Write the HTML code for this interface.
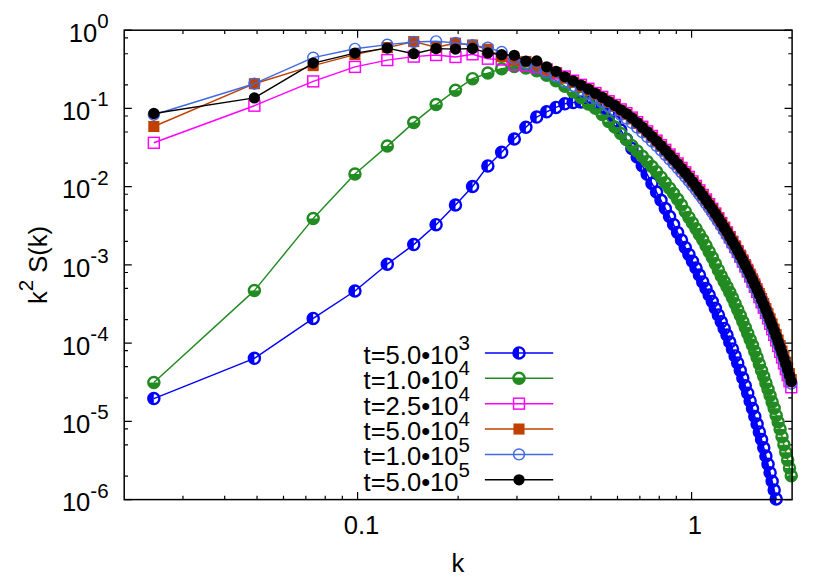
<!DOCTYPE html>
<html><head><meta charset="utf-8"><title>k2 S(k)</title>
<style>
html,body{margin:0;padding:0;background:#fff;}
body{width:830px;height:581px;overflow:hidden;}
svg{display:block;}
text{font-family:"Liberation Sans",sans-serif;fill:#000;}
</style></head><body>
<svg width="830" height="581" viewBox="0 0 830 581">
<rect x="0" y="0" width="830" height="581" fill="#ffffff"/>
<defs>
<g id="mHL"><path d="M0,-5.55 A5.55,5.55 0 0 0 0,5.55 Z" fill="#0000ff" stroke="none"/><circle cx="0" cy="0" r="5.55" fill="none" stroke="#0000ff" stroke-width="2.4"/></g>
<g id="mHB"><path d="M-5.55,0 A5.55,5.55 0 0 0 5.55,0 Z" fill="#228b22" stroke="none"/><circle cx="0" cy="0" r="5.55" fill="none" stroke="#228b22" stroke-width="2.4"/></g>
<g id="mSO"><rect x="-5.45" y="-5.45" width="10.9" height="10.9" fill="none" stroke="#ff00ff" stroke-width="1.45"/></g>
<g id="mSF"><rect x="-5.55" y="-5.55" width="11.1" height="11.1" fill="#c04000" stroke="none"/></g>
<g id="mCO"><circle cx="0" cy="0" r="5.45" fill="none" stroke="#4169e1" stroke-width="1.45"/></g>
<g id="mCF"><circle cx="0" cy="0" r="5.65" fill="#000" stroke="none"/></g>
</defs>

<g stroke="#000" stroke-width="1.2" fill="none">
<path d="M124.2,30.20h7.6M792.1,30.20h-7.6"/>
<path d="M124.2,84.88h3.8M792.1,84.88h-3.8"/>
<path d="M124.2,53.75h3.8M792.1,53.75h-3.8"/>
<path d="M124.2,37.78h3.8M792.1,37.78h-3.8"/>
<path d="M124.2,108.43h7.6M792.1,108.43h-7.6"/>
<path d="M124.2,163.12h3.8M792.1,163.12h-3.8"/>
<path d="M124.2,131.98h3.8M792.1,131.98h-3.8"/>
<path d="M124.2,116.01h3.8M792.1,116.01h-3.8"/>
<path d="M124.2,186.67h7.6M792.1,186.67h-7.6"/>
<path d="M124.2,241.35h3.8M792.1,241.35h-3.8"/>
<path d="M124.2,210.22h3.8M792.1,210.22h-3.8"/>
<path d="M124.2,194.25h3.8M792.1,194.25h-3.8"/>
<path d="M124.2,264.90h7.6M792.1,264.90h-7.6"/>
<path d="M124.2,319.58h3.8M792.1,319.58h-3.8"/>
<path d="M124.2,288.45h3.8M792.1,288.45h-3.8"/>
<path d="M124.2,272.48h3.8M792.1,272.48h-3.8"/>
<path d="M124.2,343.13h7.6M792.1,343.13h-7.6"/>
<path d="M124.2,397.82h3.8M792.1,397.82h-3.8"/>
<path d="M124.2,366.68h3.8M792.1,366.68h-3.8"/>
<path d="M124.2,350.71h3.8M792.1,350.71h-3.8"/>
<path d="M124.2,421.37h7.6M792.1,421.37h-7.6"/>
<path d="M124.2,476.05h3.8M792.1,476.05h-3.8"/>
<path d="M124.2,444.92h3.8M792.1,444.92h-3.8"/>
<path d="M124.2,428.95h3.8M792.1,428.95h-3.8"/>
<path d="M124.2,499.60h7.6M792.1,499.60h-7.6"/>
<path d="M357.60,499.6v-7.6M357.60,30.2v7.6"/>
<path d="M691.60,499.6v-7.6M691.60,30.2v7.6"/>
<path d="M182.96,499.6v-3.8M182.96,30.2v3.8"/>
<path d="M224.69,499.6v-3.8M224.69,30.2v3.8"/>
<path d="M257.06,499.6v-3.8M257.06,30.2v3.8"/>
<path d="M283.50,499.6v-3.8M283.50,30.2v3.8"/>
<path d="M305.86,499.6v-3.8M305.86,30.2v3.8"/>
<path d="M325.23,499.6v-3.8M325.23,30.2v3.8"/>
<path d="M342.32,499.6v-3.8M342.32,30.2v3.8"/>
<path d="M458.14,499.6v-3.8M458.14,30.2v3.8"/>
<path d="M516.96,499.6v-3.8M516.96,30.2v3.8"/>
<path d="M558.69,499.6v-3.8M558.69,30.2v3.8"/>
<path d="M591.06,499.6v-3.8M591.06,30.2v3.8"/>
<path d="M617.50,499.6v-3.8M617.50,30.2v3.8"/>
<path d="M639.86,499.6v-3.8M639.86,30.2v3.8"/>
<path d="M659.23,499.6v-3.8M659.23,30.2v3.8"/>
<path d="M676.32,499.6v-3.8M676.32,30.2v3.8"/>
</g>
<g id="s_blue"><polyline points="153.84,398.60 254.38,358.30 313.20,318.40 354.93,291.00 387.30,264.20 413.74,244.60 436.10,224.70 455.47,205.00 472.56,186.50 487.84,165.90 501.67,152.30 514.29,139.00 525.90,127.30 536.65,117.10 546.65,111.80 556.02,107.40 564.81,103.80 573.10,102.60 580.94,102.00 588.38,102.30 595.46,103.80 602.21,107.00 608.66,113.00 614.83,121.00 620.75,130.00 626.44,139.30 631.92,148.50 637.19,157.00 642.28,165.70 647.20,174.30 651.95,183.40 656.56,192.10 661.02,200.30 665.35,208.50 669.56,216.60 673.64,224.60 677.62,232.50 681.49,240.10 685.26,247.40 688.93,254.40 692.51,261.30 696.01,268.10 699.42,275.00 702.75,281.90 706.01,288.40 709.20,295.00 712.32,301.50 715.37,308.30 718.37,314.90 721.30,321.80 724.17,328.40 726.99,335.10 729.75,342.10 732.46,348.90 735.12,355.90 737.73,362.90 740.30,370.60 742.82,378.10 745.30,385.70 747.74,393.20 750.14,400.90 752.50,408.60 754.82,416.40 757.10,424.10 759.35,431.90 761.57,439.60 763.75,447.80 765.90,456.00 768.02,464.20 770.10,472.70 772.16,481.30 774.19,490.10 776.19,499.00" fill="none" stroke="#0000ff" stroke-width="1.45" stroke-linejoin="round"/>
<use href="#mHL" x="153.84" y="398.6"/><use href="#mHL" x="254.38" y="358.3"/><use href="#mHL" x="313.2" y="318.4"/><use href="#mHL" x="354.93" y="291"/><use href="#mHL" x="387.3" y="264.2"/><use href="#mHL" x="413.74" y="244.6"/><use href="#mHL" x="436.1" y="224.7"/><use href="#mHL" x="455.47" y="205"/><use href="#mHL" x="472.56" y="186.5"/><use href="#mHL" x="487.84" y="165.9"/><use href="#mHL" x="501.67" y="152.3"/><use href="#mHL" x="514.29" y="139"/><use href="#mHL" x="525.9" y="127.3"/><use href="#mHL" x="536.65" y="117.1"/><use href="#mHL" x="546.65" y="111.8"/><use href="#mHL" x="556.02" y="107.4"/><use href="#mHL" x="564.81" y="103.8"/><use href="#mHL" x="573.1" y="102.6"/><use href="#mHL" x="580.94" y="102"/><use href="#mHL" x="588.38" y="102.3"/><use href="#mHL" x="595.46" y="103.8"/><use href="#mHL" x="602.21" y="107"/><use href="#mHL" x="608.66" y="113"/><use href="#mHL" x="614.83" y="121"/><use href="#mHL" x="620.75" y="130"/><use href="#mHL" x="626.44" y="139.3"/><use href="#mHL" x="631.92" y="148.5"/><use href="#mHL" x="637.19" y="157"/><use href="#mHL" x="642.28" y="165.7"/><use href="#mHL" x="647.2" y="174.3"/><use href="#mHL" x="651.95" y="183.4"/><use href="#mHL" x="656.56" y="192.1"/><use href="#mHL" x="661.02" y="200.3"/><use href="#mHL" x="665.35" y="208.5"/><use href="#mHL" x="669.56" y="216.6"/><use href="#mHL" x="673.64" y="224.6"/><use href="#mHL" x="677.62" y="232.5"/><use href="#mHL" x="681.49" y="240.1"/><use href="#mHL" x="685.26" y="247.4"/><use href="#mHL" x="688.93" y="254.4"/><use href="#mHL" x="692.51" y="261.3"/><use href="#mHL" x="696.01" y="268.1"/><use href="#mHL" x="699.42" y="275.0"/><use href="#mHL" x="702.75" y="281.9"/><use href="#mHL" x="706.01" y="288.4"/><use href="#mHL" x="709.2" y="295.0"/><use href="#mHL" x="712.32" y="301.5"/><use href="#mHL" x="715.37" y="308.3"/><use href="#mHL" x="718.37" y="314.9"/><use href="#mHL" x="721.3" y="321.8"/><use href="#mHL" x="724.17" y="328.4"/><use href="#mHL" x="726.99" y="335.1"/><use href="#mHL" x="729.75" y="342.1"/><use href="#mHL" x="732.46" y="348.9"/><use href="#mHL" x="735.12" y="355.9"/><use href="#mHL" x="737.73" y="362.9"/><use href="#mHL" x="740.3" y="370.6"/><use href="#mHL" x="742.82" y="378.1"/><use href="#mHL" x="745.3" y="385.7"/><use href="#mHL" x="747.74" y="393.2"/><use href="#mHL" x="750.14" y="400.9"/><use href="#mHL" x="752.5" y="408.6"/><use href="#mHL" x="754.82" y="416.4"/><use href="#mHL" x="757.1" y="424.1"/><use href="#mHL" x="759.35" y="431.9"/><use href="#mHL" x="761.57" y="439.6"/><use href="#mHL" x="763.75" y="447.8"/><use href="#mHL" x="765.9" y="456.0"/><use href="#mHL" x="768.02" y="464.2"/><use href="#mHL" x="770.1" y="472.7"/><use href="#mHL" x="772.16" y="481.3"/><use href="#mHL" x="774.19" y="490.1"/><use href="#mHL" x="776.19" y="499.0"/>
</g>
<g id="s_green"><polyline points="153.84,382.50 254.38,290.60 313.20,218.60 354.93,174.00 387.30,146.10 413.74,122.60 436.10,104.60 455.47,90.30 472.56,78.70 487.84,73.10 501.67,68.80 514.29,66.40 525.90,68.00 536.65,70.80 546.65,75.20 556.02,80.70 564.81,86.20 573.10,91.80 580.94,97.40 588.38,104.00 595.46,108.30 602.21,114.60 608.66,121.40 614.83,127.10 620.75,133.60 626.44,139.40 631.92,145.70 637.19,151.00 642.28,156.30 647.20,161.60 651.95,166.55 656.56,171.85 661.02,177.15 665.35,182.75 669.56,188.20 673.64,193.50 677.62,199.30 681.49,205.10 685.26,211.40 688.93,217.40 692.51,222.90 696.01,228.70 699.42,234.40 702.75,239.70 706.01,245.80 709.20,251.70 712.32,257.50 715.37,263.80 718.37,269.90 721.30,276.00 724.17,281.60 726.99,286.80 729.75,292.30 732.46,297.70 735.12,303.70 737.73,309.70 740.30,315.50 742.82,321.50 745.30,327.50 747.74,333.40 750.14,339.50 752.50,345.30 754.82,351.60 757.10,357.60 759.35,363.90 761.57,370.40 763.75,376.40 765.90,382.90 768.02,389.30 770.10,395.60 772.16,401.90 774.19,408.30 776.19,415.40 778.16,421.90 780.11,429.00 782.03,436.70 783.93,444.80 785.80,452.30 787.65,459.90 789.47,467.90 791.27,475.80" fill="none" stroke="#228b22" stroke-width="1.45" stroke-linejoin="round"/>
<use href="#mHB" x="153.84" y="382.5"/><use href="#mHB" x="254.38" y="290.6"/><use href="#mHB" x="313.2" y="218.6"/><use href="#mHB" x="354.93" y="174"/><use href="#mHB" x="387.3" y="146.1"/><use href="#mHB" x="413.74" y="122.6"/><use href="#mHB" x="436.1" y="104.6"/><use href="#mHB" x="455.47" y="90.3"/><use href="#mHB" x="472.56" y="78.7"/><use href="#mHB" x="487.84" y="73.1"/><use href="#mHB" x="501.67" y="68.8"/><use href="#mHB" x="514.29" y="66.4"/><use href="#mHB" x="525.9" y="68"/><use href="#mHB" x="536.65" y="70.8"/><use href="#mHB" x="546.65" y="75.2"/><use href="#mHB" x="556.02" y="80.7"/><use href="#mHB" x="564.81" y="86.2"/><use href="#mHB" x="573.1" y="91.8"/><use href="#mHB" x="580.94" y="97.4"/><use href="#mHB" x="588.38" y="104.0"/><use href="#mHB" x="595.46" y="108.3"/><use href="#mHB" x="602.21" y="114.6"/><use href="#mHB" x="608.66" y="121.4"/><use href="#mHB" x="614.83" y="127.1"/><use href="#mHB" x="620.75" y="133.6"/><use href="#mHB" x="626.44" y="139.4"/><use href="#mHB" x="631.92" y="145.7"/><use href="#mHB" x="637.19" y="151.0"/><use href="#mHB" x="642.28" y="156.3"/><use href="#mHB" x="647.2" y="161.6"/><use href="#mHB" x="651.95" y="166.55"/><use href="#mHB" x="656.56" y="171.85"/><use href="#mHB" x="661.02" y="177.15"/><use href="#mHB" x="665.35" y="182.75"/><use href="#mHB" x="669.56" y="188.2"/><use href="#mHB" x="673.64" y="193.5"/><use href="#mHB" x="677.62" y="199.3"/><use href="#mHB" x="681.49" y="205.1"/><use href="#mHB" x="685.26" y="211.4"/><use href="#mHB" x="688.93" y="217.4"/><use href="#mHB" x="692.51" y="222.9"/><use href="#mHB" x="696.01" y="228.7"/><use href="#mHB" x="699.42" y="234.4"/><use href="#mHB" x="702.75" y="239.7"/><use href="#mHB" x="706.01" y="245.8"/><use href="#mHB" x="709.2" y="251.7"/><use href="#mHB" x="712.32" y="257.5"/><use href="#mHB" x="715.37" y="263.8"/><use href="#mHB" x="718.37" y="269.9"/><use href="#mHB" x="721.3" y="276.0"/><use href="#mHB" x="724.17" y="281.6"/><use href="#mHB" x="726.99" y="286.8"/><use href="#mHB" x="729.75" y="292.3"/><use href="#mHB" x="732.46" y="297.7"/><use href="#mHB" x="735.12" y="303.7"/><use href="#mHB" x="737.73" y="309.7"/><use href="#mHB" x="740.3" y="315.5"/><use href="#mHB" x="742.82" y="321.5"/><use href="#mHB" x="745.3" y="327.5"/><use href="#mHB" x="747.74" y="333.4"/><use href="#mHB" x="750.14" y="339.5"/><use href="#mHB" x="752.5" y="345.3"/><use href="#mHB" x="754.82" y="351.6"/><use href="#mHB" x="757.1" y="357.6"/><use href="#mHB" x="759.35" y="363.9"/><use href="#mHB" x="761.57" y="370.4"/><use href="#mHB" x="763.75" y="376.4"/><use href="#mHB" x="765.9" y="382.9"/><use href="#mHB" x="768.02" y="389.3"/><use href="#mHB" x="770.1" y="395.6"/><use href="#mHB" x="772.16" y="401.9"/><use href="#mHB" x="774.19" y="408.3"/><use href="#mHB" x="776.19" y="415.4"/><use href="#mHB" x="778.16" y="421.9"/><use href="#mHB" x="780.11" y="429.0"/><use href="#mHB" x="782.03" y="436.7"/><use href="#mHB" x="783.93" y="444.8"/><use href="#mHB" x="785.8" y="452.3"/><use href="#mHB" x="787.65" y="459.9"/><use href="#mHB" x="789.47" y="467.9"/><use href="#mHB" x="791.27" y="475.8"/>
</g>
<g id="s_mag"><polyline points="153.84,142.80 254.38,105.70 313.20,81.40 354.93,66.90 387.30,60.10 413.74,56.60 436.10,55.00 455.47,57.00 472.56,54.30 487.84,58.70 501.67,59.60 514.29,64.60 525.90,65.50 536.65,67.30 546.65,69.40 556.02,73.50 564.81,76.50 573.10,80.68 580.94,84.87 588.38,88.75 595.46,93.04 602.21,96.92 608.66,101.21 614.83,104.99 620.75,109.38 626.44,113.16 631.92,117.55 637.19,122.15 642.28,126.75 647.20,131.35 651.95,135.97 656.56,140.59 661.02,145.22 665.35,149.84 669.56,154.47 673.64,158.94 677.62,163.41 681.49,167.89 685.26,172.37 688.93,176.86 692.51,181.36 696.01,185.87 699.42,190.38 702.75,194.90 706.01,199.44 709.20,204.12 712.32,208.81 715.37,213.52 718.37,218.24 721.30,222.97 724.17,227.73 726.99,232.50 729.75,237.29 732.46,242.10 735.12,246.93 737.73,251.79 740.30,256.67 742.82,261.58 745.30,266.51 747.74,271.47 750.14,276.54 752.50,281.63 754.82,286.76 757.10,291.93 759.35,297.13 761.57,302.37 763.75,307.65 765.90,312.97 768.02,318.33 770.10,323.74 772.16,329.24 774.19,334.79 776.19,340.39 778.16,346.05 780.11,351.76 782.03,357.52 783.93,363.35 785.80,369.23 787.65,375.18 789.47,381.19 791.27,387.27" fill="none" stroke="#ff00ff" stroke-width="1.45" stroke-linejoin="round"/>
<use href="#mSO" x="153.84" y="142.8"/><use href="#mSO" x="254.38" y="105.7"/><use href="#mSO" x="313.2" y="81.4"/><use href="#mSO" x="354.93" y="66.9"/><use href="#mSO" x="387.3" y="60.1"/><use href="#mSO" x="413.74" y="56.6"/><use href="#mSO" x="436.1" y="55"/><use href="#mSO" x="455.47" y="57"/><use href="#mSO" x="472.56" y="54.3"/><use href="#mSO" x="487.84" y="58.7"/><use href="#mSO" x="501.67" y="59.6"/><use href="#mSO" x="514.29" y="64.6"/><use href="#mSO" x="525.9" y="65.5"/><use href="#mSO" x="536.65" y="67.3"/><use href="#mSO" x="546.65" y="69.4"/><use href="#mSO" x="556.02" y="73.5"/><use href="#mSO" x="564.81" y="76.5"/><use href="#mSO" x="573.1" y="80.68"/><use href="#mSO" x="580.94" y="84.87"/><use href="#mSO" x="588.38" y="88.75"/><use href="#mSO" x="595.46" y="93.04"/><use href="#mSO" x="602.21" y="96.92"/><use href="#mSO" x="608.66" y="101.21"/><use href="#mSO" x="614.83" y="104.99"/><use href="#mSO" x="620.75" y="109.38"/><use href="#mSO" x="626.44" y="113.16"/><use href="#mSO" x="631.92" y="117.55"/><use href="#mSO" x="637.19" y="122.15"/><use href="#mSO" x="642.28" y="126.75"/><use href="#mSO" x="647.2" y="131.35"/><use href="#mSO" x="651.95" y="135.97"/><use href="#mSO" x="656.56" y="140.59"/><use href="#mSO" x="661.02" y="145.22"/><use href="#mSO" x="665.35" y="149.84"/><use href="#mSO" x="669.56" y="154.47"/><use href="#mSO" x="673.64" y="158.94"/><use href="#mSO" x="677.62" y="163.41"/><use href="#mSO" x="681.49" y="167.89"/><use href="#mSO" x="685.26" y="172.37"/><use href="#mSO" x="688.93" y="176.86"/><use href="#mSO" x="692.51" y="181.36"/><use href="#mSO" x="696.01" y="185.87"/><use href="#mSO" x="699.42" y="190.38"/><use href="#mSO" x="702.75" y="194.9"/><use href="#mSO" x="706.01" y="199.44"/><use href="#mSO" x="709.2" y="204.12"/><use href="#mSO" x="712.32" y="208.81"/><use href="#mSO" x="715.37" y="213.52"/><use href="#mSO" x="718.37" y="218.24"/><use href="#mSO" x="721.3" y="222.97"/><use href="#mSO" x="724.17" y="227.73"/><use href="#mSO" x="726.99" y="232.5"/><use href="#mSO" x="729.75" y="237.29"/><use href="#mSO" x="732.46" y="242.1"/><use href="#mSO" x="735.12" y="246.93"/><use href="#mSO" x="737.73" y="251.79"/><use href="#mSO" x="740.3" y="256.67"/><use href="#mSO" x="742.82" y="261.58"/><use href="#mSO" x="745.3" y="266.51"/><use href="#mSO" x="747.74" y="271.47"/><use href="#mSO" x="750.14" y="276.54"/><use href="#mSO" x="752.5" y="281.63"/><use href="#mSO" x="754.82" y="286.76"/><use href="#mSO" x="757.1" y="291.93"/><use href="#mSO" x="759.35" y="297.13"/><use href="#mSO" x="761.57" y="302.37"/><use href="#mSO" x="763.75" y="307.65"/><use href="#mSO" x="765.9" y="312.97"/><use href="#mSO" x="768.02" y="318.33"/><use href="#mSO" x="770.1" y="323.74"/><use href="#mSO" x="772.16" y="329.24"/><use href="#mSO" x="774.19" y="334.79"/><use href="#mSO" x="776.19" y="340.39"/><use href="#mSO" x="778.16" y="346.05"/><use href="#mSO" x="780.11" y="351.76"/><use href="#mSO" x="782.03" y="357.52"/><use href="#mSO" x="783.93" y="363.35"/><use href="#mSO" x="785.8" y="369.23"/><use href="#mSO" x="787.65" y="375.18"/><use href="#mSO" x="789.47" y="381.19"/><use href="#mSO" x="791.27" y="387.27"/>
</g>
<g id="s_brown"><polyline points="153.84,126.50 254.38,83.70 313.20,65.60 354.93,54.60 387.30,47.60 413.74,41.60 436.10,47.30 455.47,43.20 472.56,45.00 487.84,49.30 501.67,56.60 514.29,60.40 525.90,61.50 536.65,65.70 546.65,69.60 556.02,72.80 564.81,78.17 573.10,82.25 580.94,86.33 588.38,90.10 595.46,94.38 602.21,98.26 608.66,102.54 614.83,106.32 620.75,110.70 626.44,114.48 631.92,118.86 637.19,123.46 642.28,128.06 647.20,132.65 651.95,137.25 656.56,141.85 661.02,146.46 665.35,151.06 669.56,155.67 673.64,160.12 677.62,164.57 681.49,169.03 685.26,173.49 688.93,177.96 692.51,182.44 696.01,186.93 699.42,191.42 702.75,195.92 706.01,200.44 709.20,204.90 712.32,209.38 715.37,213.88 718.37,218.38 721.30,222.91 724.17,227.45 726.99,232.00 729.75,236.58 732.46,241.18 735.12,245.80 737.73,250.44 740.30,255.11 742.82,259.80 745.30,264.52 747.74,269.27 750.14,274.07 752.50,278.90 754.82,283.76 757.10,288.66 759.35,293.59 761.57,298.57 763.75,303.58 765.90,308.63 768.02,313.73 770.10,318.87 772.16,324.11 774.19,329.39 776.19,334.73 778.16,340.11 780.11,345.56 782.03,351.05 783.93,356.61 785.80,362.23 787.65,367.91 789.47,373.66 791.27,379.47" fill="none" stroke="#c04000" stroke-width="1.45" stroke-linejoin="round"/>
<use href="#mSF" x="153.84" y="126.5"/><use href="#mSF" x="254.38" y="83.7"/><use href="#mSF" x="313.2" y="65.6"/><use href="#mSF" x="354.93" y="54.6"/><use href="#mSF" x="387.3" y="47.6"/><use href="#mSF" x="413.74" y="41.6"/><use href="#mSF" x="436.1" y="47.3"/><use href="#mSF" x="455.47" y="43.2"/><use href="#mSF" x="472.56" y="45"/><use href="#mSF" x="487.84" y="49.3"/><use href="#mSF" x="501.67" y="56.6"/><use href="#mSF" x="514.29" y="60.4"/><use href="#mSF" x="525.9" y="61.5"/><use href="#mSF" x="536.65" y="65.7"/><use href="#mSF" x="546.65" y="69.6"/><use href="#mSF" x="556.02" y="72.8"/><use href="#mSF" x="564.81" y="78.17"/><use href="#mSF" x="573.1" y="82.25"/><use href="#mSF" x="580.94" y="86.33"/><use href="#mSF" x="588.38" y="90.1"/><use href="#mSF" x="595.46" y="94.38"/><use href="#mSF" x="602.21" y="98.26"/><use href="#mSF" x="608.66" y="102.54"/><use href="#mSF" x="614.83" y="106.32"/><use href="#mSF" x="620.75" y="110.7"/><use href="#mSF" x="626.44" y="114.48"/><use href="#mSF" x="631.92" y="118.86"/><use href="#mSF" x="637.19" y="123.46"/><use href="#mSF" x="642.28" y="128.06"/><use href="#mSF" x="647.2" y="132.65"/><use href="#mSF" x="651.95" y="137.25"/><use href="#mSF" x="656.56" y="141.85"/><use href="#mSF" x="661.02" y="146.46"/><use href="#mSF" x="665.35" y="151.06"/><use href="#mSF" x="669.56" y="155.67"/><use href="#mSF" x="673.64" y="160.12"/><use href="#mSF" x="677.62" y="164.57"/><use href="#mSF" x="681.49" y="169.03"/><use href="#mSF" x="685.26" y="173.49"/><use href="#mSF" x="688.93" y="177.96"/><use href="#mSF" x="692.51" y="182.44"/><use href="#mSF" x="696.01" y="186.93"/><use href="#mSF" x="699.42" y="191.42"/><use href="#mSF" x="702.75" y="195.92"/><use href="#mSF" x="706.01" y="200.44"/><use href="#mSF" x="709.2" y="204.9"/><use href="#mSF" x="712.32" y="209.38"/><use href="#mSF" x="715.37" y="213.88"/><use href="#mSF" x="718.37" y="218.38"/><use href="#mSF" x="721.3" y="222.91"/><use href="#mSF" x="724.17" y="227.45"/><use href="#mSF" x="726.99" y="232.0"/><use href="#mSF" x="729.75" y="236.58"/><use href="#mSF" x="732.46" y="241.18"/><use href="#mSF" x="735.12" y="245.8"/><use href="#mSF" x="737.73" y="250.44"/><use href="#mSF" x="740.3" y="255.11"/><use href="#mSF" x="742.82" y="259.8"/><use href="#mSF" x="745.3" y="264.52"/><use href="#mSF" x="747.74" y="269.27"/><use href="#mSF" x="750.14" y="274.07"/><use href="#mSF" x="752.5" y="278.9"/><use href="#mSF" x="754.82" y="283.76"/><use href="#mSF" x="757.1" y="288.66"/><use href="#mSF" x="759.35" y="293.59"/><use href="#mSF" x="761.57" y="298.57"/><use href="#mSF" x="763.75" y="303.58"/><use href="#mSF" x="765.9" y="308.63"/><use href="#mSF" x="768.02" y="313.73"/><use href="#mSF" x="770.1" y="318.87"/><use href="#mSF" x="772.16" y="324.11"/><use href="#mSF" x="774.19" y="329.39"/><use href="#mSF" x="776.19" y="334.73"/><use href="#mSF" x="778.16" y="340.11"/><use href="#mSF" x="780.11" y="345.56"/><use href="#mSF" x="782.03" y="351.05"/><use href="#mSF" x="783.93" y="356.61"/><use href="#mSF" x="785.8" y="362.23"/><use href="#mSF" x="787.65" y="367.91"/><use href="#mSF" x="789.47" y="373.66"/><use href="#mSF" x="791.27" y="379.47"/>
</g>
<g id="s_bo"><polyline points="153.84,114.70 254.38,83.70 313.20,57.60 354.93,48.80 387.30,44.60 413.74,42.00 436.10,41.30 455.47,42.90 472.56,45.10 487.84,47.60 501.67,52.00 514.29,58.70 525.90,63.50 536.65,66.90 546.65,72.30 556.02,76.30 564.81,81.80 573.10,86.00 580.94,90.20 588.38,94.10 595.46,98.40 602.21,102.30 608.66,106.60 614.83,110.40 620.75,114.80 626.44,118.60 631.92,123.00 637.19,127.62 642.28,132.24 647.20,136.85 651.95,141.35 656.56,145.85 661.02,150.36 665.35,154.86 669.56,159.37 673.64,163.72 677.62,168.07 681.49,172.43 685.26,176.79 688.93,181.16 692.51,185.62 696.01,190.09 699.42,194.56 702.75,199.04 706.01,203.54 709.20,208.04 712.32,212.56 715.37,217.10 718.37,221.64 721.30,226.21 724.17,230.79 726.99,235.38 729.75,240.00 732.46,244.64 735.12,249.30 737.73,253.98 740.30,258.69 742.82,263.42 745.30,268.18 747.74,272.97 750.14,277.79 752.50,282.64 754.82,287.53 757.10,292.45 759.35,297.40 761.57,302.40 763.75,307.44 765.90,312.52 768.02,317.64 770.10,322.80 772.16,328.06 774.19,333.37 776.19,338.73 778.16,344.14 780.11,349.61 782.03,355.13 783.93,360.71 785.80,366.36 787.65,372.06 789.47,377.83 791.27,383.67" fill="none" stroke="#4169e1" stroke-width="1.45" stroke-linejoin="round"/>
<use href="#mCO" x="153.84" y="114.7"/><use href="#mCO" x="254.38" y="83.7"/><use href="#mCO" x="313.2" y="57.6"/><use href="#mCO" x="354.93" y="48.8"/><use href="#mCO" x="387.3" y="44.6"/><use href="#mCO" x="413.74" y="42.0"/><use href="#mCO" x="436.1" y="41.3"/><use href="#mCO" x="455.47" y="42.9"/><use href="#mCO" x="472.56" y="45.1"/><use href="#mCO" x="487.84" y="47.6"/><use href="#mCO" x="501.67" y="52"/><use href="#mCO" x="514.29" y="58.7"/><use href="#mCO" x="525.9" y="63.5"/><use href="#mCO" x="536.65" y="66.9"/><use href="#mCO" x="546.65" y="72.3"/><use href="#mCO" x="556.02" y="76.3"/><use href="#mCO" x="564.81" y="81.8"/><use href="#mCO" x="573.1" y="86.0"/><use href="#mCO" x="580.94" y="90.2"/><use href="#mCO" x="588.38" y="94.1"/><use href="#mCO" x="595.46" y="98.4"/><use href="#mCO" x="602.21" y="102.3"/><use href="#mCO" x="608.66" y="106.6"/><use href="#mCO" x="614.83" y="110.4"/><use href="#mCO" x="620.75" y="114.8"/><use href="#mCO" x="626.44" y="118.6"/><use href="#mCO" x="631.92" y="123.0"/><use href="#mCO" x="637.19" y="127.62"/><use href="#mCO" x="642.28" y="132.24"/><use href="#mCO" x="647.2" y="136.85"/><use href="#mCO" x="651.95" y="141.35"/><use href="#mCO" x="656.56" y="145.85"/><use href="#mCO" x="661.02" y="150.36"/><use href="#mCO" x="665.35" y="154.86"/><use href="#mCO" x="669.56" y="159.37"/><use href="#mCO" x="673.64" y="163.72"/><use href="#mCO" x="677.62" y="168.07"/><use href="#mCO" x="681.49" y="172.43"/><use href="#mCO" x="685.26" y="176.79"/><use href="#mCO" x="688.93" y="181.16"/><use href="#mCO" x="692.51" y="185.62"/><use href="#mCO" x="696.01" y="190.09"/><use href="#mCO" x="699.42" y="194.56"/><use href="#mCO" x="702.75" y="199.04"/><use href="#mCO" x="706.01" y="203.54"/><use href="#mCO" x="709.2" y="208.04"/><use href="#mCO" x="712.32" y="212.56"/><use href="#mCO" x="715.37" y="217.1"/><use href="#mCO" x="718.37" y="221.64"/><use href="#mCO" x="721.3" y="226.21"/><use href="#mCO" x="724.17" y="230.79"/><use href="#mCO" x="726.99" y="235.38"/><use href="#mCO" x="729.75" y="240.0"/><use href="#mCO" x="732.46" y="244.64"/><use href="#mCO" x="735.12" y="249.3"/><use href="#mCO" x="737.73" y="253.98"/><use href="#mCO" x="740.3" y="258.69"/><use href="#mCO" x="742.82" y="263.42"/><use href="#mCO" x="745.3" y="268.18"/><use href="#mCO" x="747.74" y="272.97"/><use href="#mCO" x="750.14" y="277.79"/><use href="#mCO" x="752.5" y="282.64"/><use href="#mCO" x="754.82" y="287.53"/><use href="#mCO" x="757.1" y="292.45"/><use href="#mCO" x="759.35" y="297.4"/><use href="#mCO" x="761.57" y="302.4"/><use href="#mCO" x="763.75" y="307.44"/><use href="#mCO" x="765.9" y="312.52"/><use href="#mCO" x="768.02" y="317.64"/><use href="#mCO" x="770.1" y="322.8"/><use href="#mCO" x="772.16" y="328.06"/><use href="#mCO" x="774.19" y="333.37"/><use href="#mCO" x="776.19" y="338.73"/><use href="#mCO" x="778.16" y="344.14"/><use href="#mCO" x="780.11" y="349.61"/><use href="#mCO" x="782.03" y="355.13"/><use href="#mCO" x="783.93" y="360.71"/><use href="#mCO" x="785.8" y="366.36"/><use href="#mCO" x="787.65" y="372.06"/><use href="#mCO" x="789.47" y="377.83"/><use href="#mCO" x="791.27" y="383.67"/>
</g>
<g id="s_black"><polyline points="153.84,113.50 254.38,97.90 313.20,63.10 354.93,53.10 387.30,48.10 413.74,53.70 436.10,48.60 455.47,49.10 472.56,48.50 487.84,52.90 501.67,54.70 514.29,55.30 525.90,61.20 536.65,60.90 546.65,66.80 556.02,71.30 564.81,76.80 573.10,81.00 580.94,85.20 588.38,89.10 595.46,93.40 602.21,97.30 608.66,101.60 614.83,105.40 620.75,109.80 626.44,113.60 631.92,118.00 637.19,122.62 642.28,127.24 647.20,131.85 651.95,136.47 656.56,141.09 661.02,145.72 665.35,150.34 669.56,154.97 673.64,159.44 677.62,163.91 681.49,168.39 685.26,172.87 688.93,177.36 692.51,181.86 696.01,186.37 699.42,190.88 702.75,195.40 706.01,199.94 709.20,204.48 712.32,209.04 715.37,213.62 718.37,218.20 721.30,222.81 724.17,227.43 726.99,232.06 729.75,236.72 732.46,241.40 735.12,246.10 737.73,250.82 740.30,255.57 742.82,260.34 745.30,265.14 747.74,269.97 750.14,274.83 752.50,279.72 754.82,284.65 757.10,289.61 759.35,294.60 761.57,299.64 763.75,304.71 765.90,309.83 768.02,314.99 770.10,320.19 772.16,325.49 774.19,330.83 776.19,336.23 778.16,341.68 780.11,347.18 782.03,352.74 783.93,358.36 785.80,364.04 787.65,369.79 789.47,375.60 791.27,381.47" fill="none" stroke="#000000" stroke-width="1.45" stroke-linejoin="round"/>
<use href="#mCF" x="153.84" y="113.5"/><use href="#mCF" x="254.38" y="97.9"/><use href="#mCF" x="313.2" y="63.1"/><use href="#mCF" x="354.93" y="53.1"/><use href="#mCF" x="387.3" y="48.1"/><use href="#mCF" x="413.74" y="53.7"/><use href="#mCF" x="436.1" y="48.6"/><use href="#mCF" x="455.47" y="49.1"/><use href="#mCF" x="472.56" y="48.5"/><use href="#mCF" x="487.84" y="52.9"/><use href="#mCF" x="501.67" y="54.7"/><use href="#mCF" x="514.29" y="55.3"/><use href="#mCF" x="525.9" y="61.2"/><use href="#mCF" x="536.65" y="60.9"/><use href="#mCF" x="546.65" y="66.8"/><use href="#mCF" x="556.02" y="71.3"/><use href="#mCF" x="564.81" y="76.8"/><use href="#mCF" x="573.1" y="81.0"/><use href="#mCF" x="580.94" y="85.2"/><use href="#mCF" x="588.38" y="89.1"/><use href="#mCF" x="595.46" y="93.4"/><use href="#mCF" x="602.21" y="97.3"/><use href="#mCF" x="608.66" y="101.6"/><use href="#mCF" x="614.83" y="105.4"/><use href="#mCF" x="620.75" y="109.8"/><use href="#mCF" x="626.44" y="113.6"/><use href="#mCF" x="631.92" y="118.0"/><use href="#mCF" x="637.19" y="122.62"/><use href="#mCF" x="642.28" y="127.24"/><use href="#mCF" x="647.2" y="131.85"/><use href="#mCF" x="651.95" y="136.47"/><use href="#mCF" x="656.56" y="141.09"/><use href="#mCF" x="661.02" y="145.72"/><use href="#mCF" x="665.35" y="150.34"/><use href="#mCF" x="669.56" y="154.97"/><use href="#mCF" x="673.64" y="159.44"/><use href="#mCF" x="677.62" y="163.91"/><use href="#mCF" x="681.49" y="168.39"/><use href="#mCF" x="685.26" y="172.87"/><use href="#mCF" x="688.93" y="177.36"/><use href="#mCF" x="692.51" y="181.86"/><use href="#mCF" x="696.01" y="186.37"/><use href="#mCF" x="699.42" y="190.88"/><use href="#mCF" x="702.75" y="195.4"/><use href="#mCF" x="706.01" y="199.94"/><use href="#mCF" x="709.2" y="204.48"/><use href="#mCF" x="712.32" y="209.04"/><use href="#mCF" x="715.37" y="213.62"/><use href="#mCF" x="718.37" y="218.2"/><use href="#mCF" x="721.3" y="222.81"/><use href="#mCF" x="724.17" y="227.43"/><use href="#mCF" x="726.99" y="232.06"/><use href="#mCF" x="729.75" y="236.72"/><use href="#mCF" x="732.46" y="241.4"/><use href="#mCF" x="735.12" y="246.1"/><use href="#mCF" x="737.73" y="250.82"/><use href="#mCF" x="740.3" y="255.57"/><use href="#mCF" x="742.82" y="260.34"/><use href="#mCF" x="745.3" y="265.14"/><use href="#mCF" x="747.74" y="269.97"/><use href="#mCF" x="750.14" y="274.83"/><use href="#mCF" x="752.5" y="279.72"/><use href="#mCF" x="754.82" y="284.65"/><use href="#mCF" x="757.1" y="289.61"/><use href="#mCF" x="759.35" y="294.6"/><use href="#mCF" x="761.57" y="299.64"/><use href="#mCF" x="763.75" y="304.71"/><use href="#mCF" x="765.9" y="309.83"/><use href="#mCF" x="768.02" y="314.99"/><use href="#mCF" x="770.1" y="320.19"/><use href="#mCF" x="772.16" y="325.49"/><use href="#mCF" x="774.19" y="330.83"/><use href="#mCF" x="776.19" y="336.23"/><use href="#mCF" x="778.16" y="341.68"/><use href="#mCF" x="780.11" y="347.18"/><use href="#mCF" x="782.03" y="352.74"/><use href="#mCF" x="783.93" y="358.36"/><use href="#mCF" x="785.8" y="364.04"/><use href="#mCF" x="787.65" y="369.79"/><use href="#mCF" x="789.47" y="375.6"/><use href="#mCF" x="791.27" y="381.47"/>
</g>
<rect x="124.2" y="30.2" width="667.9" height="469.40000000000003" fill="none" stroke="#000" stroke-width="1.5"/>
<text x="108.6" y="41.8" font-size="25.6" text-anchor="end">10<tspan font-size="20.5" dy="-13.7">0</tspan></text>
<text x="108.6" y="120.0" font-size="25.6" text-anchor="end">10<tspan font-size="20.5" dy="-13.7">-1</tspan></text>
<text x="108.6" y="198.3" font-size="25.6" text-anchor="end">10<tspan font-size="20.5" dy="-13.7">-2</tspan></text>
<text x="108.6" y="276.5" font-size="25.6" text-anchor="end">10<tspan font-size="20.5" dy="-13.7">-3</tspan></text>
<text x="108.6" y="354.7" font-size="25.6" text-anchor="end">10<tspan font-size="20.5" dy="-13.7">-4</tspan></text>
<text x="108.6" y="433.0" font-size="25.6" text-anchor="end">10<tspan font-size="20.5" dy="-13.7">-5</tspan></text>
<text x="108.6" y="511.2" font-size="25.6" text-anchor="end">10<tspan font-size="20.5" dy="-13.7">-6</tspan></text>
<text x="343.7" y="533.6" font-size="25.6">0.1</text>
<text x="694.9" y="533.6" font-size="25.6" text-anchor="middle">1</text>
<text x="457.8" y="571.5" font-size="25.6" text-anchor="middle">k</text>
<text transform="translate(47,265) rotate(-90)" font-size="25.6" text-anchor="middle">k<tspan font-size="20.5" dy="-13.7">2</tspan><tspan dy="13.7"> S(k)</tspan></text>
<text x="470" y="363.7" font-size="25.6" text-anchor="end">t=5.0•10<tspan font-size="20.5" dy="-13.7">3</tspan></text>
<path d="M484.9,352.90H553.2" stroke="#0000ff" stroke-width="1.45" fill="none"/><use href="#mHL" x="519" y="352.90"/>
<text x="470" y="389.1" font-size="25.6" text-anchor="end">t=1.0•10<tspan font-size="20.5" dy="-13.7">4</tspan></text>
<path d="M484.9,378.28H553.2" stroke="#228b22" stroke-width="1.45" fill="none"/><use href="#mHB" x="519" y="378.28"/>
<text x="470" y="414.5" font-size="25.6" text-anchor="end">t=2.5•10<tspan font-size="20.5" dy="-13.7">4</tspan></text>
<path d="M484.9,403.66H553.2" stroke="#ff00ff" stroke-width="1.45" fill="none"/><use href="#mSO" x="519" y="403.66"/>
<text x="470" y="439.8" font-size="25.6" text-anchor="end">t=5.0•10<tspan font-size="20.5" dy="-13.7">4</tspan></text>
<path d="M484.9,429.04H553.2" stroke="#c04000" stroke-width="1.45" fill="none"/><use href="#mSF" x="519" y="429.04"/>
<text x="470" y="465.2" font-size="25.6" text-anchor="end">t=1.0•10<tspan font-size="20.5" dy="-13.7">5</tspan></text>
<path d="M484.9,454.42H553.2" stroke="#4169e1" stroke-width="1.45" fill="none"/><use href="#mCO" x="519" y="454.42"/>
<text x="470" y="490.6" font-size="25.6" text-anchor="end">t=5.0•10<tspan font-size="20.5" dy="-13.7">5</tspan></text>
<path d="M484.9,479.80H553.2" stroke="#000000" stroke-width="1.45" fill="none"/><use href="#mCF" x="519" y="479.80"/>
</svg></body></html>
